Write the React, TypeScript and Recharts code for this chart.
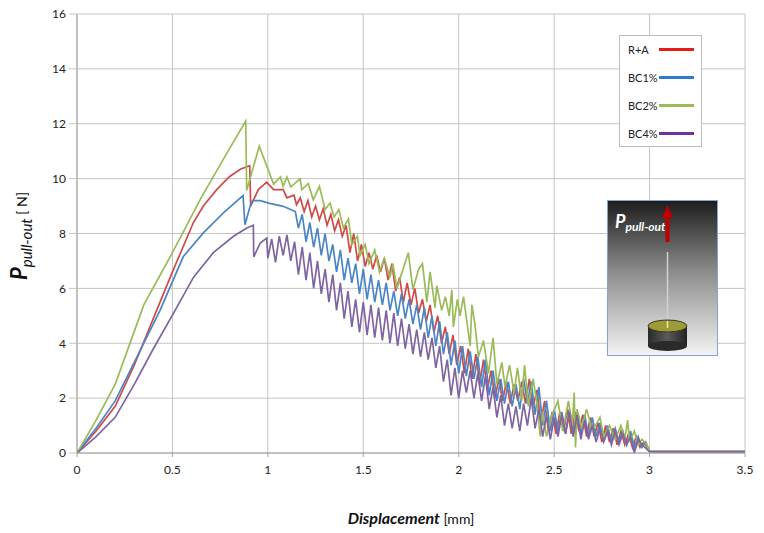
import { LineChart, Line, XAxis, YAxis, CartesianGrid, Legend } from 'recharts'

type Pt = [number, number]

const SERIES_NAMES = ['R+A', 'BC1%', 'BC2%', 'BC4%']
const LINE_COLORS = ['#cf4b48', '#4a86c6', '#9bbb59', '#8064a2']
const LEGEND_COLORS = ['#e31b1b', '#2f7ccc', '#9bbb59', '#7030a0']
const X_TICKS = [0, 0.5, 1, 1.5, 2, 2.5, 3, 3.5]
const Y_TICKS = [0, 2, 4, 6, 8, 10, 12, 14, 16]

// R+A
const rA: Pt[] = [
  [0, 0], [0.1, 0.8], [0.2, 1.7], [0.3, 3.2], [0.435, 5.5], [0.5, 6.6], [0.61, 8.4], [0.662, 9.0],
  [0.732, 9.6], [0.8, 10.08], [0.858, 10.35], [0.905, 10.47], [0.91, 9.0], [0.95, 9.6], [0.994, 9.87],
  [1.03, 9.6], [1.08, 9.6], [1.1, 9.3], [1.137, 9.4], [1.15, 9.05],
  [1.17, 9.3], [1.19, 8.8], [1.21, 9.2], [1.23, 8.6], [1.25, 9.0], [1.27, 8.5], [1.29, 8.9], [1.31, 8.3],
  [1.33, 8.7], [1.35, 8.1], [1.37, 8.5], [1.39, 7.9], [1.41, 8.3], [1.43, 7.3], [1.45, 8.0], [1.47, 7.0],
  [1.49, 7.6], [1.51, 6.8], [1.53, 7.3], [1.55, 6.7], [1.57, 7.2], [1.59, 6.6], [1.61, 7.1], [1.63, 6.3],
  [1.65, 6.9], [1.67, 5.9], [1.69, 6.4], [1.71, 5.5], [1.73, 6.2], [1.75, 5.4], [1.77, 6.0], [1.79, 5.1],
  [1.81, 5.6], [1.83, 4.8], [1.85, 5.4], [1.87, 4.4], [1.89, 5.0], [1.91, 4.0], [1.93, 4.6], [1.95, 3.6],
  [1.97, 4.3], [1.99, 3.2], [2.01, 3.9], [2.03, 2.9], [2.05, 3.8], [2.07, 2.7], [2.09, 3.6], [2.11, 2.5],
  [2.13, 3.4], [2.15, 2.3], [2.17, 3.0], [2.19, 2.0], [2.21, 2.7], [2.23, 1.9], [2.25, 2.6], [2.27, 1.8],
  [2.29, 2.5], [2.31, 1.9], [2.33, 2.6], [2.35, 1.8], [2.37, 2.7], [2.39, 1.7], [2.41, 2.3], [2.43, 1.1],
  [2.45, 1.9], [2.47, 0.8], [2.49, 1.5], [2.51, 0.7], [2.53, 1.5], [2.55, 0.8], [2.57, 1.6], [2.59, 0.7],
  [2.61, 1.5], [2.63, 0.8], [2.65, 1.4], [2.67, 0.6], [2.69, 1.3], [2.71, 0.6], [2.73, 1.1], [2.75, 0.4],
  [2.77, 1.0], [2.79, 0.4], [2.81, 0.9], [2.83, 0.3], [2.85, 0.8], [2.87, 0.3], [2.89, 0.7], [2.91, 0.2],
  [2.93, 0.6], [2.95, 0.2], [2.97, 0.4], [3.0, 0.05], [3.5, 0.05],
]

// BC1%
const bc1: Pt[] = [
  [0, 0], [0.1, 0.9], [0.2, 1.9], [0.3, 3.3], [0.435, 5.2], [0.557, 7.16], [0.662, 8.02], [0.767, 8.75],
  [0.87, 9.38], [0.88, 8.32], [0.907, 8.99], [0.92, 9.2], [0.96, 9.2], [1.01, 9.1], [1.08, 8.99], [1.144, 8.8],
  [1.16, 8.2], [1.18, 8.7], [1.2, 7.7], [1.22, 8.4], [1.24, 7.5], [1.26, 8.2], [1.28, 7.2], [1.3, 8.0],
  [1.32, 7.0], [1.34, 7.6], [1.36, 6.6], [1.38, 7.4], [1.4, 6.3], [1.42, 7.1], [1.44, 6.2], [1.46, 6.9],
  [1.48, 5.8], [1.5, 6.7], [1.52, 5.6], [1.54, 6.5], [1.56, 5.5], [1.58, 6.3], [1.6, 5.4], [1.62, 6.2],
  [1.64, 5.2], [1.66, 5.9], [1.68, 5.0], [1.7, 5.8], [1.72, 4.9], [1.74, 5.6], [1.76, 4.7], [1.78, 5.4],
  [1.8, 4.5], [1.82, 5.3], [1.84, 4.2], [1.86, 5.0], [1.88, 3.9], [1.9, 4.8], [1.92, 3.6], [1.94, 4.4],
  [1.96, 3.2], [1.98, 4.1], [2.0, 2.9], [2.02, 3.9], [2.04, 2.8], [2.06, 3.7], [2.08, 2.7], [2.1, 3.5],
  [2.12, 2.4], [2.14, 3.4], [2.16, 2.1], [2.18, 3.0], [2.2, 1.9], [2.22, 2.7], [2.24, 1.8], [2.26, 2.6],
  [2.28, 1.7], [2.3, 2.5], [2.32, 1.6], [2.34, 2.7], [2.36, 1.8], [2.38, 2.6], [2.4, 1.4], [2.42, 2.4],
  [2.44, 1.0], [2.46, 1.9], [2.48, 0.8], [2.5, 1.6], [2.52, 0.8], [2.54, 1.5], [2.56, 0.7], [2.58, 1.6],
  [2.6, 0.8], [2.62, 1.5], [2.64, 0.7], [2.66, 1.4], [2.68, 0.6], [2.7, 1.3], [2.72, 0.6], [2.74, 1.1],
  [2.76, 0.5], [2.78, 1.0], [2.8, 0.4], [2.82, 0.9], [2.84, 0.4], [2.86, 0.8], [2.88, 0.3], [2.9, 0.8],
  [2.92, 0.2], [2.94, 0.6], [2.96, 0.2], [2.98, 0.4], [3.0, 0.05], [3.5, 0.05],
]

// BC2%
const bc2: Pt[] = [
  [0, 0], [0.1, 1.2], [0.2, 2.5], [0.35, 5.4], [0.5, 7.3], [0.65, 9.3], [0.8, 11.1], [0.884, 12.1],
  [0.889, 9.57], [0.955, 11.18], [1.03, 9.8], [1.066, 10.06], [1.08, 9.72], [1.1, 10.06], [1.12, 9.7],
  [1.169, 9.99], [1.178, 9.6], [1.212, 9.82], [1.238, 9.23], [1.27, 9.72], [1.3, 8.87], [1.326, 9.11],
  [1.347, 8.6], [1.372, 8.87], [1.396, 8.2], [1.422, 8.53], [1.44, 7.6], [1.469, 7.9], [1.483, 7.2],
  [1.51, 7.6], [1.53, 6.9], [1.56, 7.4], [1.585, 6.6], [1.61, 7.1], [1.64, 6.4], [1.655, 6.9], [1.676, 6.0],
  [1.736, 7.3], [1.76, 5.95], [1.79, 6.7], [1.81, 6.9], [1.833, 5.5], [1.85, 6.6], [1.876, 5.3], [1.885, 6.1],
  [1.911, 5.2], [1.93, 5.7], [1.95, 5.0], [1.964, 5.95], [1.972, 4.6], [1.993, 5.6], [2.007, 5.0], [2.025, 5.7],
  [2.06, 3.9], [2.069, 5.4], [2.085, 4.7], [2.103, 3.5], [2.13, 4.1], [2.156, 2.9], [2.18, 4.2], [2.2, 2.5],
  [2.226, 3.3], [2.243, 2.4], [2.266, 3.2], [2.29, 2.2], [2.308, 3.1], [2.33, 1.9], [2.345, 3.2], [2.365, 1.7],
  [2.39, 2.7], [2.41, 1.8], [2.427, 0.6], [2.44, 1.5], [2.46, 0.6], [2.49, 1.4], [2.52, 1.9], [2.545, 0.8],
  [2.575, 1.9], [2.595, 1.0], [2.605, 2.2], [2.612, 0.2], [2.62, 1.6], [2.645, 0.9], [2.67, 1.6], [2.7, 0.8],
  [2.74, 1.3], [2.76, 0.6], [2.79, 1.0], [2.82, 0.5], [2.85, 1.0], [2.87, 0.5], [2.885, 1.2], [2.895, 0.4],
  [2.92, 0.8], [2.94, 0.3], [2.96, 0.5], [2.985, 0.3], [3.0, 0.05], [3.5, 0.05],
]

// BC4%
const bc4: Pt[] = [
  [0, 0], [0.1, 0.6], [0.2, 1.3], [0.3, 2.5], [0.4, 3.8], [0.514, 5.2], [0.61, 6.4], [0.714, 7.3],
  [0.82, 7.9], [0.89, 8.2], [0.924, 8.3], [0.926, 7.15], [0.96, 7.65], [0.994, 7.83],
  [1.0, 7.1], [1.02, 7.8], [1.04, 6.95], [1.06, 7.9], [1.08, 7.2], [1.1, 7.95], [1.12, 7.0], [1.14, 7.7],
  [1.16, 6.5], [1.18, 7.5], [1.2, 6.3], [1.22, 7.3], [1.24, 6.0], [1.26, 7.0], [1.28, 5.8], [1.3, 6.7],
  [1.32, 5.5], [1.34, 6.5], [1.36, 5.2], [1.38, 6.2], [1.4, 4.9], [1.42, 5.9], [1.44, 4.6], [1.46, 5.6],
  [1.48, 4.4], [1.5, 5.5], [1.52, 4.3], [1.54, 5.4], [1.56, 4.2], [1.58, 5.3], [1.6, 4.1], [1.62, 5.2],
  [1.64, 4.0], [1.66, 5.1], [1.68, 3.9], [1.7, 4.9], [1.72, 3.8], [1.74, 4.7], [1.76, 3.6], [1.78, 4.5],
  [1.8, 3.5], [1.82, 4.4], [1.84, 3.4], [1.86, 4.2], [1.88, 3.1], [1.9, 3.9], [1.92, 2.6], [1.94, 3.4],
  [1.96, 2.1], [1.98, 3.1], [2.0, 2.0], [2.02, 3.0], [2.04, 2.2], [2.06, 3.0], [2.08, 2.0], [2.1, 2.9],
  [2.12, 1.9], [2.14, 2.8], [2.16, 1.6], [2.18, 2.4], [2.2, 1.3], [2.22, 2.1], [2.24, 1.0], [2.26, 1.8],
  [2.28, 0.9], [2.3, 1.7], [2.32, 0.8], [2.34, 1.8], [2.36, 1.0], [2.38, 2.0], [2.4, 0.9], [2.42, 1.6],
  [2.44, 0.6], [2.46, 1.4], [2.48, 0.5], [2.5, 1.3], [2.52, 0.6], [2.54, 1.4], [2.56, 0.7], [2.58, 1.5],
  [2.6, 0.6], [2.62, 1.4], [2.64, 0.5], [2.66, 1.2], [2.68, 0.5], [2.7, 1.0], [2.72, 0.4], [2.74, 0.9],
  [2.76, 0.4], [2.78, 0.8], [2.8, 0.3], [2.82, 0.8], [2.84, 0.3], [2.86, 0.7], [2.88, 0.3], [2.9, 0.6],
  [2.92, 0.0], [2.94, 0.5], [2.96, 0.3], [3.0, 0.05], [3.5, 0.05],
]

const SERIES_DATA = [rA, bc1, bc2, bc4]

const FONT = 'Lato, "Open Sans", sans-serif'

function LegendBox() {
  return (
    <div
      style={{
        width: 83,
        height: 112,
        boxSizing: 'border-box',
        background: '#fff',
        border: '1px solid #bdbdbd',
        fontFamily: FONT,
        fontSize: 11,
        color: '#222',
        position: 'relative',
      }}
    >
      {SERIES_NAMES.map((name, i) => (
        <div key={name} style={{ position: 'absolute', left: 8, top: 6 + i * 28, height: 14, display: 'flex', alignItems: 'center' }}>
          <span style={{ width: 31 }}>{name}</span>
          <span style={{ display: 'inline-block', width: 35, height: 3, background: LEGEND_COLORS[i] }} />
        </div>
      ))}
    </div>
  )
}

function Inset() {
  return (
    <svg width={111} height={156} style={{ position: 'absolute', left: 607, top: 200 }}>
      <defs>
        <linearGradient id="bg" x1="0" y1="0" x2="0" y2="1">
          <stop offset="0" stopColor="#1c1c1c" />
          <stop offset="0.45" stopColor="#8a8a8a" />
          <stop offset="1" stopColor="#f4f4f4" />
        </linearGradient>
        <linearGradient id="body" x1="0" y1="0" x2="1" y2="0">
          <stop offset="0" stopColor="#2a2a2a" />
          <stop offset="0.5" stopColor="#5a5a5a" />
          <stop offset="1" stopColor="#222" />
        </linearGradient>
      </defs>
      <rect x={0.5} y={0.5} width={110} height={155} fill="url(#bg)" stroke="#7ea6d8" />
      <text x={8} y={28} fill="#fff" fontFamily={FONT} fontStyle="italic" fontWeight="bold" fontSize={18}>
        P
        <tspan fontSize={12} dy={3} fontWeight="bold">pull-out</tspan>
      </text>
      <rect x={58.5} y={17} width={4} height={25} fill="#c00000" />
      <polygon points="60.5,5 55,18 66,18" fill="#c00000" />
      <line x1={60.5} y1={52} x2={60.5} y2={128} stroke="#d0d0d0" strokeWidth={1.5} />
      <rect x={41} y={126} width={39} height={20} fill="url(#body)" />
      <ellipse cx={60.5} cy={146} rx={19.5} ry={5} fill="#2a2a2a" />
      <ellipse cx={60.5} cy={126} rx={19.5} ry={6} fill="#9e9a38" stroke="#3a3a1a" strokeWidth={1} />
      <line x1={60.5} y1={121} x2={60.5} y2={128} stroke="#e8e8b0" strokeWidth={1.5} />
    </svg>
  )
}

export default function App() {
  return (
    <div style={{ position: 'absolute', left: 0, top: 0, width: 764, height: 533, background: '#fff' }}>
      <LineChart width={764} height={533} margin={{ top: 14, right: 19, bottom: 50, left: 17 }}>
        <CartesianGrid stroke="#c4c4c4" strokeWidth={1} />
        <XAxis
          type="number"
          dataKey="x"
          domain={[0, 3.5]}
          ticks={X_TICKS}
          allowDataOverflow
          height={30}
          tickSize={4}
          tickMargin={8}
          stroke="#a0a0a0"
          tick={{ fill: '#222', fontSize: 12, fontFamily: FONT }}
        />
        <YAxis
          type="number"
          domain={[0, 16]}
          ticks={Y_TICKS}
          width={60}
          tickSize={8}
          tickMargin={3}
          stroke="#a0a0a0"
          tickLine={{ stroke: '#c4c4c4' }}
          tick={{ fill: '#222', fontSize: 12, fontFamily: FONT }}
        />
        {SERIES_DATA.map((pts, i) => (
          <Line
            key={SERIES_NAMES[i]}
            name={SERIES_NAMES[i]}
            data={pts.map(([x, y]) => ({ x, y }))}
            dataKey="y"
            type="linear"
            stroke={LINE_COLORS[i]}
            strokeWidth={1.7}
            dot={false}
            isAnimationActive={false}
          />
        ))}
        <Legend
          layout="vertical"
          align="center"
          verticalAlign="middle"
          content={() => <LegendBox />}
          wrapperStyle={{ position: 'absolute', left: 619, top: 35, width: 83, height: 112 }}
        />
      </LineChart>
      <Inset />
      <svg width={764} height={533} style={{ position: 'absolute', left: 0, top: 0, pointerEvents: 'none' }}>
        <text x={411} y={524} textAnchor="middle" fontFamily={FONT} fontSize={16} fill="#111">
          <tspan fontWeight="bold" fontStyle="italic">Displacement</tspan>
          <tspan fontSize={14}> [mm]</tspan>
        </text>
        <text transform="rotate(-90, 27, 236)" x={27} y={236} textAnchor="middle" fontFamily={FONT} fill="#111">
          <tspan fontWeight="bold" fontStyle="italic" fontSize={22}>P</tspan>
          <tspan fontStyle="italic" fontSize={15} dy={5}>pull-out</tspan>
          <tspan fontSize={14} dy={-5}>{'  [ N]'}</tspan>
        </text>
      </svg>
    </div>
  )
}
